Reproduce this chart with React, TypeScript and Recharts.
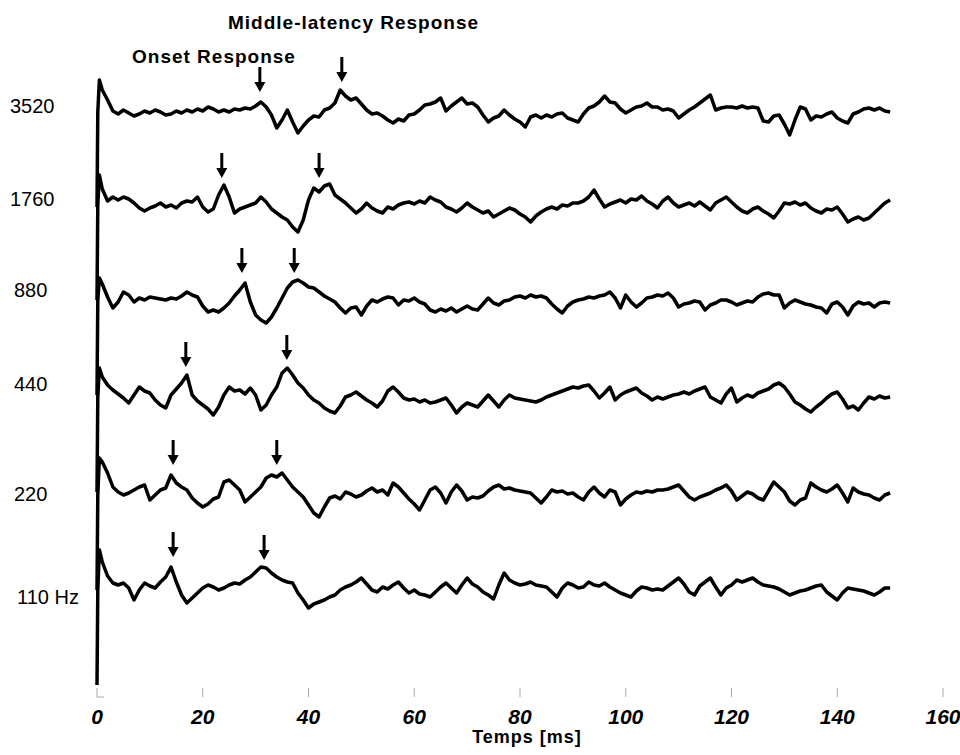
import { ComposedChart, Line, Scatter, XAxis, YAxis } from "recharts";

// time axis, ms
const TIME_TICKS = [0, 20, 40, 60, 80, 100, 120, 140, 160];

// stimulus frequency of each trace, top to bottom
const TRACE_LABELS = ["3520", "1760", "880", "440", "220", "110 Hz"];
const TRACE_KEYS = ["f3520", "f1760", "f880", "f440", "f220", "f110"];

// vertical offset of each trace (arbitrary units)
const TRACE_OFFSET = [585, 492, 397, 300, 202, 107];

// stimulus artifact: dip at t=0 and onset spike just after
const STIM_DIP = -95;
const ONSET_PEAK = [32, 30, 22, 29, 37, 40];

// sampled traces, t = 1..150 ms (1 ms step)
const T3520 = [
  22, 12, 1, -2, 2, -1, -4, -2, 1, -1,
  2, 0, -3, -2, 1, -1, 2, 0, 3, 1,
  5, 3, 0, 2, 0, 3, 2, 4, 3, 6,
  10, 5, -3, -16, -8, 2, -10, -21, -14, -8,
  -4, -5, 2, 4, 9, 22, 16, 12, 14, 8,
  2, -2, -1, -4, -8, -11, -7, -9, -3, -2,
  2, 7, 8, 10, 14, 1, 6, 10, 14, 8,
  9, 5, -3, -10, -6, -4, 2, -3, -7, -10,
  -15, -5, -3, -6, -3, -5, -2, -1, -6, -8,
  -10, -2, 4, 6, 10, 16, 10, 9, 3, -1,
  2, 5, 6, 9, 5, 5, 2, 3, 1, -6,
  -2, 2, 5, 9, 13, 17, 2, 4, 5, 5,
  4, 6, 4, 5, 4, -9, -10, -4, -3, -12,
  -23, -8, 5, 3, -8, -4, -5, -2, 0, -6,
  -9, -11, -2, 0, 3, 4, 2, 4, 1, 0,
];
const T1760 = [
  16, 4, 8, 5, 8, 6, 2, -3, -6, -3,
  -1, 2, -2, 0, -3, 2, 4, 3, 8, -2,
  -7, -4, 10, 20, 8, -8, -4, -2, 0, 2,
  8, 3, -4, -8, -12, -15, -22, -27, -15, 5,
  17, 13, 19, 21, 10, 6, 2, -3, -8, -4,
  2, -3, -6, -8, -2, -4, 0, 2, 3, 1,
  4, 2, 8, 5, 3, -2, -4, -7, -3, 2,
  -2, -5, -8, -6, -12, -9, -6, -3, -5, -9,
  -12, -17, -11, -7, -4, -2, -4, 0, -1, 2,
  2, 4, 8, 15, 6, -2, 1, 3, 5, 2,
  6, 5, 9, 4, 1, -3, 4, 8, 2, -2,
  0, 2, -1, 3, -1, -5, 2, 5, 8, 3,
  -2, -6, -8, -4, -2, -6, -9, -13, -6, 2,
  1, 3, 0, 2, -3, -6, -8, -4, -5, -2,
  -9, -17, -14, -12, -15, -13, -8, -3, 2, 5,
];
const T880 = [
  16, 3, -8, -2, 8, 5, -2, 2, 0, 3,
  2, 1, 0, 2, 1, 4, 8, 5, 3, -6,
  -12, -10, -12, -8, -3, 4, 10, 17, -2, -15,
  -20, -23, -17, -8, 2, 12, 18, 20, 17, 13,
  12, 8, 4, 1, -2, -8, -13, -8, -7, -15,
  -6, 0, -2, 1, 3, 2, -5, 0, -1, 2,
  -2, -4, -10, -12, -9, -11, -8, -12, -9, -6,
  -9, -10, -4, 2, -3, -5, -1, 0, 3, 4,
  2, 5, 3, 4, 2, -4, -9, -13, -6, -2,
  0, 1, 3, 2, 4, 5, 8, 2, -8, 5,
  -2, -7, -3, 2, 3, 5, 4, 7, 2, -7,
  -4, -3, -1, -2, -10, -5, -3, 0, 0, -2,
  -5, -3, -1, -2, 3, 6, 7, 5, 5, -8,
  -3, 0, -2, -4, -5, -7, -8, -13, -4, -2,
  -7, -15, -6, -2, -4, -3, -7, -3, -2, -3,
];
const T440 = [
  20, 12, 7, 3, -1, -6, 2, 10, 6, 4,
  -3, -8, -11, 2, 8, 14, 22, 2, -4, -8,
  -12, -18, -10, 2, 10, 6, 7, 3, 9, 2,
  -13, -8, 2, 10, 24, 29, 22, 14, 9, 2,
  -3, -6, -11, -14, -16, -9, 0, 2, 5, 1,
  -3, -6, -10, -4, 6, 10, 5, -1, -3, -2,
  -5, -3, -6, -5, -3, -1, -8, -16, -10, -6,
  -8, -10, -4, 2, -4, -10, -3, 2, -1, -2,
  -3, -4, -5, -3, 0, 2, 4, 6, 8, 10,
  9, 11, 12, 6, -1, 4, 10, -3, 2, 5,
  7, 9, 4, 1, -3, 0, -2, 0, 2, 3,
  5, 3, 6, 8, 10, 0, -3, -6, 3, 9,
  -5, -1, 2, 0, 4, 6, 8, 12, 14, 10,
  3, -5, -8, -12, -15, -10, -6, -1, 3, 5,
  -2, -11, -9, -13, -6, 0, -2, 1, -1, 0,
];
const T220 = [
  33, 22, 8, 3, 0, 2, 5, 8, 10, -5,
  0, 5, 7, 20, 12, 8, 5, -3, -8, -12,
  -9, -4, -2, 13, 15, 10, 5, -7, -2, 3,
  8, 17, 20, 18, 22, 15, 8, 3, -2, -10,
  -18, -22, -12, -3, -1, -4, 3, 1, -2, 0,
  4, 7, 3, 5, 0, 12, 8, 2, -4, -9,
  -15, -5, 5, 8, 2, -8, 3, 10, 4, -5,
  -2, -3, -1, 4, 8, 10, 6, 7, 5, 4,
  3, 2, -3, -8, -2, 5, 3, 4, 1, 2,
  -2, -5, 3, 8, 2, -2, 5, 3, -10, -4,
  0, 3, 2, 4, 3, 5, 5, 6, 8, 10,
  4, -2, -5, -2, 0, 2, 5, 7, 10, 4,
  -5, -1, 3, 1, -3, -5, 4, 13, 8, 3,
  -6, -10, -5, -3, 12, 8, 5, 3, 6, 10,
  2, -7, 7, 3, 1, 0, -3, -5, 0, 2,
];
const T110 = [
  28, 14, 7, 5, 7, 2, -10, 0, 7, 4,
  2, 8, 13, 23, 8, -5, -13, -8, -3, 2,
  5, 3, 0, 2, 5, 7, 6, 10, 13, 18,
  23, 22, 17, 13, 10, 8, 7, -3, -10, -18,
  -14, -12, -10, -7, -5, 0, 3, 5, 8, 12,
  6, 0, -2, 3, 1, 5, 8, 2, -3, 0,
  -4, -5, -7, -2, 3, 7, 2, -3, 5, 12,
  6, 3, -2, -5, -9, 5, 17, 10, 7, 5,
  6, 8, 5, 4, 3, -2, -7, 2, 7, 5,
  2, 3, 8, 5, 4, 7, 3, 0, -3, -5,
  -7, -1, 3, 2, 0, 1, 0, 4, 8, 12,
  6, -2, -5, 4, 8, 12, 3, -5, 2, 5,
  10, 8, 10, 12, 8, 5, 4, 3, 1, -2,
  -5, -3, -1, 0, 2, 4, 5, -2, -6, -10,
  -3, 2, 1, 0, -1, -3, -5, -2, 2, 2,
];
const TRACES = [T3520, T1760, T880, T440, T220, T110];

// arrows: latency (ms) and height of the arrow tip above each trace offset
const ONSET_ARROW_MS = [30.8, 23.6, 27.4, 16.8, 14.4, 14.4];
const ONSET_ARROW_UP = [20, 27, 27, 30, 30, 33];
const MLR_ARROW_MS = [46.3, 42.0, 37.3, 35.9, 34.0, 31.6];
const MLR_ARROW_UP = [30, 27, 27, 37, 30, 30];

const FONT = '"Liberation Sans", Arial, sans-serif';

const rows: Record<string, number>[] = [];
{
  const dip: Record<string, number> = { t: 0 };
  const back: Record<string, number> = { t: 0.15 };
  const spike: Record<string, number> = { t: 0.45 };
  TRACE_KEYS.forEach((k, i) => {
    dip[k] = TRACE_OFFSET[i] + STIM_DIP;
    back[k] = TRACE_OFFSET[i];
    spike[k] = TRACE_OFFSET[i] + ONSET_PEAK[i];
  });
  rows.push(dip, back, spike);
  for (let s = 0; s < T3520.length; s++) {
    const r: Record<string, number> = { t: s + 1 };
    TRACE_KEYS.forEach((k, i) => (r[k] = TRACE_OFFSET[i] + TRACES[i][s]));
    rows.push(r);
  }
}

const arrows = TRACE_OFFSET.flatMap((off, i) => [
  { t: ONSET_ARROW_MS[i], v: off + ONSET_ARROW_UP[i] },
  { t: MLR_ARROW_MS[i], v: off + MLR_ARROW_UP[i] },
]);

function Arrow(props: any) {
  const { cx, cy } = props;
  if (cx == null || cy == null) return null;
  return (
    <g>
      <line x1={cx} x2={cx} y1={cy - 25} y2={cy - 8} stroke="#000" strokeWidth={3} />
      <path d={`M${cx - 5.5},${cy - 10} L${cx + 5.5},${cy - 10} L${cx},${cy} Z`} fill="#000" />
    </g>
  );
}

function TimeTick(props: any) {
  const { x, y, payload } = props;
  return (
    <g>
      <line x1={x} x2={x} y1={y - 9} y2={y} stroke="#a8a8a8" strokeWidth={1} />
      {payload.value === 0 && <line x1={x} x2={x + 7} y1={y} y2={y} stroke="#a8a8a8" strokeWidth={1} />}
      <text
        x={x}
        y={y + 27}
        textAnchor="middle"
        fontFamily={FONT}
        fontSize={21}
        fontWeight="bold"
        fontStyle="italic"
        fill="#000"
      >
        {payload.value}
      </text>
    </g>
  );
}

const LABEL_TOP = [96, 189, 280, 374, 484, 587];
const LABEL_LEFT = [10, 10, 14, 14, 14, 17];

export default function App() {
  return (
    <div style={{ position: "absolute", left: 0, top: 0, width: 960, height: 755, background: "#fff", fontFamily: FONT }}>
      <ComposedChart width={960} height={755} data={rows} margin={{ top: 0, right: 17, bottom: 0, left: 97 }}>
        <XAxis
          dataKey="t"
          type="number"
          domain={[0, 160]}
          ticks={TIME_TICKS}
          interval={0}
          height={58}
          tickSize={0}
          tickMargin={0}
          axisLine={false}
          tickLine={false}
          tick={<TimeTick />}
        />
        <YAxis type="number" domain={[0, 697]} hide />
        {TRACE_KEYS.map((k) => (
          <Line
            key={k}
            dataKey={k}
            type="linear"
            stroke="#000"
            strokeWidth={3.5}
            strokeLinejoin="round"
            dot={false}
            activeDot={false}
            isAnimationActive={false}
          />
        ))}
        <Scatter data={arrows} dataKey="v" shape={<Arrow />} isAnimationActive={false} />
      </ComposedChart>

      <div style={{ position: "absolute", left: 228, top: 13, fontSize: 19, fontWeight: "bold", letterSpacing: 1, lineHeight: 1, whiteSpace: "nowrap" }}>
        Middle-latency Response
      </div>
      <div style={{ position: "absolute", left: 132, top: 47, fontSize: 19, fontWeight: "bold", letterSpacing: 1, lineHeight: 1, whiteSpace: "nowrap" }}>
        Onset Response
      </div>
      {TRACE_LABELS.map((lab, i) => (
        <div
          key={lab}
          style={{ position: "absolute", left: LABEL_LEFT[i], top: LABEL_TOP[i], fontSize: 20, lineHeight: 1, whiteSpace: "nowrap" }}
        >
          {lab}
        </div>
      ))}
      <div style={{ position: "absolute", left: 427, width: 200, top: 728, textAlign: "center", fontSize: 18, fontWeight: "bold", letterSpacing: 1, lineHeight: 1 }}>
        Temps [ms]
      </div>
    </div>
  );
}
